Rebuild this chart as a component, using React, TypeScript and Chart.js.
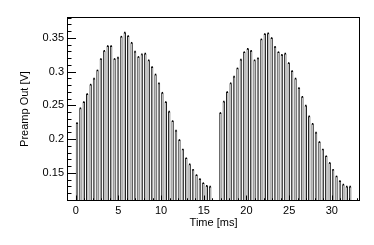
import React, { useEffect, useRef } from "react";
import { Chart, registerables } from "chart.js";

Chart.register(...registerables);

// ---- data ----
const PULSE1_TIME = [
  0.15, 0.55, 0.95, 1.35, 1.75, 2.15, 2.55, 2.95, 3.35, 3.75,
  4.15, 4.55, 4.95, 5.35, 5.75, 6.15, 6.55, 6.95, 7.35, 7.75,
  8.15, 8.55, 8.95, 9.35, 9.75, 10.15, 10.55, 10.95, 11.35, 11.75,
  12.15, 12.55, 12.95, 13.35, 13.75, 14.15, 14.55, 14.95, 15.35, 15.75,
];
const PULSE1_VOLT = [
  0.224, 0.246, 0.255, 0.267, 0.281, 0.290, 0.302, 0.319, 0.331, 0.338,
  0.338, 0.319, 0.321, 0.352, 0.358, 0.353, 0.343, 0.330, 0.322, 0.326,
  0.327, 0.317, 0.307, 0.296, 0.283, 0.269, 0.255, 0.241, 0.227, 0.213,
  0.199, 0.185, 0.172, 0.163, 0.155, 0.147, 0.141, 0.135, 0.131, 0.130,
];
const PULSE2_TIME = [
  16.95, 17.35, 17.75, 18.15, 18.55, 18.95, 19.35, 19.75, 20.15, 20.55,
  20.95, 21.35, 21.75, 22.15, 22.55, 22.95, 23.35, 23.75, 24.15, 24.55,
  24.95, 25.35, 25.75, 26.15, 26.55, 26.95, 27.35, 27.75, 28.15, 28.55,
  28.95, 29.35, 29.75, 30.15, 30.55, 30.95, 31.35, 31.75, 32.15,
];
const PULSE2_VOLT = [
  0.239, 0.256, 0.270, 0.283, 0.293, 0.305, 0.318, 0.329, 0.334, 0.331,
  0.317, 0.320, 0.348, 0.356, 0.357, 0.350, 0.337, 0.329, 0.325, 0.327,
  0.313, 0.301, 0.290, 0.276, 0.263, 0.250, 0.234, 0.223, 0.210, 0.196,
  0.185, 0.175, 0.165, 0.155, 0.145, 0.138, 0.133, 0.130, 0.130,
];
const X_TICKS = [0, 5, 10, 15, 20, 25, 30];
const X_TICK_LABELS = ["0", "5", "10", "15", "20", "25", "30"];
const Y_TICKS = [0.15, 0.2, 0.25, 0.3, 0.35];
const Y_TICK_LABELS = ["0.15", "0.2", "0.25", "0.3", "0.35"];
const X_TITLE = "Time [ms]";
const Y_TITLE = "Preamp Out [V]";
const X_MIN = -1.02;
const X_MAX = 33.3;
const Y_MIN = 0.1085;
const Y_MAX = 0.381;
const X_MINOR_STEP = 1;
const Y_MINOR_STEP = 0.01;

const FONT = { family: "'Liberation Sans', Arial, sans-serif", size: 11 };

const framePlugin = {
  id: "rootFrame",
  afterDatasetsDraw(chart: any) {
    const { ctx, chartArea: a, scales } = chart;
    const x = scales.x;
    const y = scales.y;
    ctx.save();
    ctx.strokeStyle = "#000";
    ctx.lineWidth = 1;
    ctx.beginPath();
    const yMinorStart = Math.ceil(Y_MIN / Y_MINOR_STEP);
    const yMinorEnd = Math.floor(Y_MAX / Y_MINOR_STEP);
    for (let i = yMinorStart; i <= yMinorEnd; i++) {
      const v = i * Y_MINOR_STEP;
      const major = Y_TICKS.some((t) => Math.abs(t - v) < 1e-6);
      const py = Math.round(y.getPixelForValue(v)) + 0.5;
      ctx.moveTo(a.left, py);
      ctx.lineTo(a.left + (major ? 9 : 4.5), py);
    }
    const xMinorStart = Math.ceil(X_MIN / X_MINOR_STEP);
    const xMinorEnd = Math.floor(X_MAX / X_MINOR_STEP);
    for (let i = xMinorStart; i <= xMinorEnd; i++) {
      const v = i * X_MINOR_STEP;
      const major = X_TICKS.includes(v);
      const px = Math.round(x.getPixelForValue(v)) + 0.5;
      ctx.moveTo(px, a.bottom);
      ctx.lineTo(px, a.bottom - (major ? 5.5 : 2.75));
    }
    ctx.stroke();
    ctx.strokeRect(
      Math.round(a.left) + 0.5,
      Math.round(a.top) + 0.5,
      Math.round(a.right) - Math.round(a.left) - 1,
      Math.round(a.bottom) - Math.round(a.top) - 1
    );
    ctx.restore();
  },
};

export default function App() {
  const ref = useRef<HTMLCanvasElement>(null);

  useEffect(() => {
    const points = [
      ...PULSE1_TIME.map((t, i) => ({ x: t, y: PULSE1_VOLT[i] })),
      ...PULSE2_TIME.map((t, i) => ({ x: t, y: PULSE2_VOLT[i] })),
    ];
    const chart = new Chart(ref.current as HTMLCanvasElement, {
      type: "bar",
      data: {
        datasets: [
          {
            type: "line",
            data: points,
            showLine: false,
            pointStyle: "rect",
            pointRadius: 1,
            pointBackgroundColor: "#000",
            pointBorderWidth: 0,
            order: 0,
          } as any,
          {
            type: "bar",
            data: points,
            backgroundColor: "#fff",
            borderColor: "#222",
            borderWidth: 1,
            borderSkipped: "start",
            barPercentage: 0.72,
            categoryPercentage: 1,
            clip: 0,
            order: 1,
          } as any,
        ],
      },
      options: {
        animation: false,
        responsive: false,
        devicePixelRatio: 1,
        layout: { padding: { top: 17, right: 14, left: 0, bottom: 0 } },
        plugins: { legend: { display: false }, tooltip: { enabled: false } },
        events: [],
        scales: {
          x: {
            type: "linear",
            min: X_MIN,
            max: X_MAX,
            offset: false,
            grid: { display: false, drawTicks: false },
            border: { display: false },
            afterBuildTicks: (s: any) => {
              s.ticks = X_TICKS.map((v) => ({ value: v }));
            },
            afterFit: (s: any) => {
              s.height = 44;
            },
            ticks: {
              autoSkip: false,
              maxRotation: 0,
              padding: 3,
              color: "#000",
              font: FONT,
              callback: (_v: any, i: number) => X_TICK_LABELS[i],
            },
            title: {
              display: true,
              text: X_TITLE,
              color: "#000",
              font: FONT,
              padding: { top: 0, bottom: 15 },
            },
          },
          y: {
            type: "linear",
            min: Y_MIN,
            max: Y_MAX,
            beginAtZero: false,
            grid: { display: false, drawTicks: false },
            border: { display: false },
            afterBuildTicks: (s: any) => {
              s.ticks = Y_TICKS.map((v) => ({ value: v }));
            },
            afterFit: (s: any) => {
              s.width = 67;
            },
            ticks: {
              autoSkip: false,
              padding: 3,
              color: "#000",
              font: FONT,
              callback: (_v: any, i: number) => Y_TICK_LABELS[i],
            },
            title: {
              display: true,
              text: Y_TITLE,
              color: "#000",
              font: FONT,
              padding: { top: 18, bottom: 0 },
            },
          },
        },
      } as any,
      plugins: [framePlugin],
    });
    return () => chart.destroy();
  }, []);

  return (
    <div style={{ position: "absolute", left: 0, top: 0, width: 374, height: 245, background: "#fff" }}>
      <canvas ref={ref} width={374} height={245} style={{ display: "block", width: 374, height: 245 }} />
    </div>
  );
}
